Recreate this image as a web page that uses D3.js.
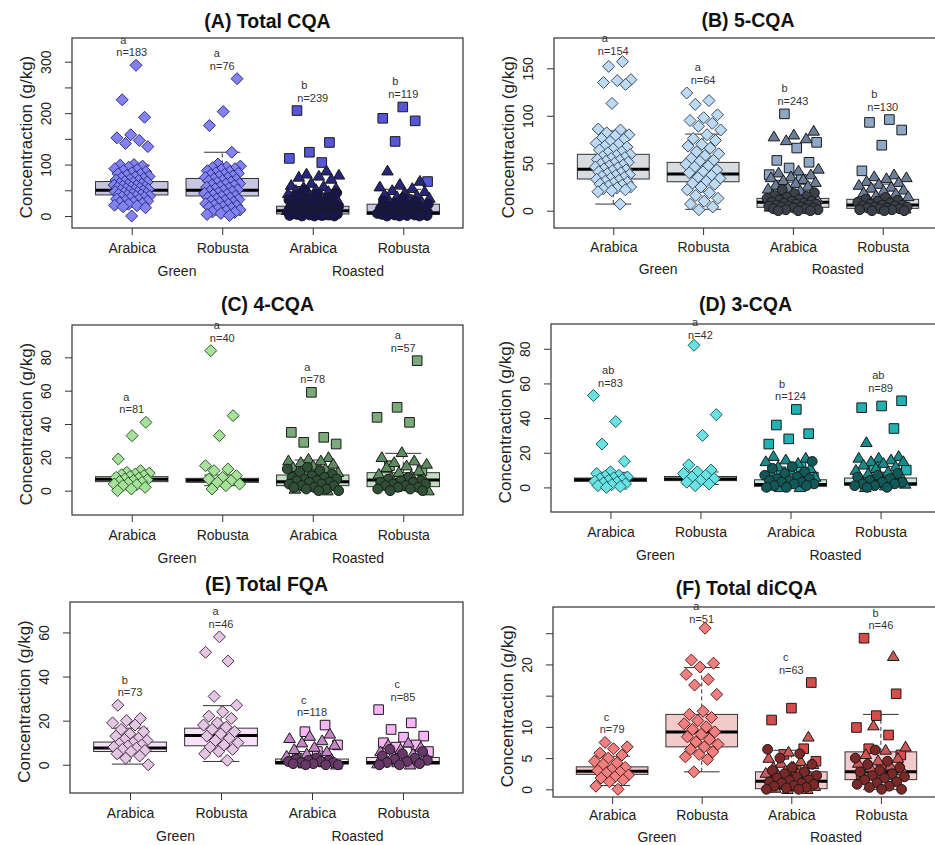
<!DOCTYPE html>
<html>
<head>
<meta charset="utf-8">
<script src="https://cdn.jsdelivr.net/npm/d3@7"></script>
<style>
  body { margin: 0; background: #fff; }
  svg { display: block; }
  text { font-family: "Liberation Sans", Arial, sans-serif; }
</style>
</head>
<body>
<svg id="chart" width="935" height="845"></svg>
<script>
// ---------- categories and labels ----------
const cultivars = ["Arabica", "Robusta", "Arabica", "Robusta"];
const processes = ["Green", "Roasted"];
const panelTitles = ["(A) Total CQA", "(B) 5-CQA", "(C) 4-CQA", "(D) 3-CQA", "(E) Total FQA", "(F) Total diCQA"];
const yAxisTitle = "Concentraction (g/kg)";

const yTicks = [
  [0, 50, 100, 150, 200, 250, 300],
  [0, 50, 100, 150],
  [0, 20, 40, 60, 80],
  [0, 20, 40, 60, 80],
  [0, 20, 40, 60],
  [0, 5, 10, 15, 20, 25]
];
const yTickLabels = [
  ["0", "", "100", "", "200", "", "300"],
  ["0", "50", "100", "150"],
  ["0", "20", "40", "60", "80"],
  ["0", "20", "40", "60", "80"],
  ["0", "20", "40", "60"],
  ["0", "5", "10", "", "20", ""]
];
const yLimits = [[-23.3, 346.1], [-18.2, 181.9], [-14.6, 99.4], [-14.2, 94.3], [-12.8, 73.8], [-1.23, 29.2]];

const sampleCounts = [
  [183, 76, 239, 119],
  [154, 64, 243, 130],
  [81, 40, 78, 57],
  [83, 42, 124, 89],
  [73, 46, 118, 85],
  [79, 51, 63, 46]
];
const groupLetters = [
  ["a", "a", "b", "b"],
  ["a", "a", "b", "b"],
  ["a", "a", "a", "a"],
  ["ab", "a", "b", "ab"],
  ["b", "a", "c", "c"],
  ["c", "a", "c", "b"]
];

// ---------- box summaries: [lower whisker, Q1, median, Q3, upper whisker] ----------
const boxTotalCQA = [[18, 41, 50, 67, 99], [2, 39, 50, 73, 124], [0, 4, 10, 19, 40], [0, 3, 6.5, 23, 52]];
const box5CQA = [[7, 33.4, 43.6, 59.4, 84], [1.5, 30.5, 38.6, 50.9, 80.7], [0, 3.6, 8.8, 13, 30], [0, 2.5, 6, 12, 28]];
const box4CQA = [[2.4, 5.4, 6.8, 8.4, 10.4], [3, 5, 6.2, 7.4, 9.4], [0, 3, 5.4, 9.4, 18.4], [0, 2.4, 6.4, 10.8, 22.4]];
const box3CQA = [[1.6, 3.5, 4.4, 5.4, 8.7], [1.7, 3.9, 4.8, 6.3, 8.9], [0, 0.6, 1.6, 4.4, 10], [0, 1.2, 2.1, 5.4, 12]];
const boxTotalFQA = [[0.3, 6, 7.6, 10.3, 16.6], [1.5, 8.6, 13.3, 16.6, 26.8], [0, 0.3, 1, 2.6, 6], [0, 0.3, 1, 3.3, 8]];
const boxTotalDiCQA = [[0.6, 2.4, 2.9, 3.6, 5.3], [2.8, 6.8, 9.2, 12, 19.5], [0, 0.1, 1.3, 2.8, 6.25], [0, 1.55, 2.8, 6, 12]];

// ---------- sample values (g/kg) ----------
// green beans (diamonds); roasted beans split by marker: sq / tri / dot
const tcqaGA = [293, 226, 192, 158, 152, 147, 141, 135, 100, 99, 97, 95, 92, 90, 88, 86, 84, 82, 81, 79, 77, 76, 74, 73, 71, 70, 69, 67, 66, 65, 63, 62, 61, 60, 59, 58, 57, 56, 55, 54, 53, 52, 51, 50, 49, 48, 47, 46, 45, 44, 43, 42, 41, 40, 39, 38, 37, 36, 35, 33, 32, 30, 29, 27, 26, 24, 23, 21, 20, 18, 16, 0];
const tcqaGR = [267, 203, 176, 124, 101, 97, 95, 94, 92, 90, 88, 86, 84, 83, 81, 80, 78, 77, 75, 74, 72, 71, 69, 68, 66, 65, 63, 62, 60, 59, 57, 56, 54, 53, 51, 50, 48, 47, 45, 44, 42, 41, 39, 38, 36, 35, 33, 32, 30, 29, 27, 26, 24, 23, 21, 20, 18, 17, 15, 14, 12, 10, 8, 7, 5, 3, 1];
const tcqaRA_sq = [205, 143, 124, 112, 104, 48, 42, 30, 22];
const tcqaRA_tri = [88, 82, 80, 78, 76, 72, 64, 60, 58, 56, 54, 52, 50, 48, 46, 44, 42, 40, 38, 36, 35, 33, 32, 30, 29, 27, 26, 24, 23, 21, 20, 18, 17, 15, 14, 12, 11, 9, 8, 6, 5, 3, 1];
const tcqaRA_dot = [50, 45, 42, 40, 36, 34, 31, 28, 27, 25, 24, 22, 21, 19, 18, 17, 16, 15, 14, 13, 12, 12, 11, 10, 9, 9, 8, 8, 7, 7, 6, 6, 5, 5, 4, 4, 3, 3, 2, 2, 1, 1, 0, 0, 0];
const tcqaRR_sq = [212, 190, 185, 145, 67, 32];
const tcqaRR_tri = [88, 68, 62, 57, 54, 50, 48, 45, 42, 40, 38, 35, 33, 30, 28, 26, 24, 22, 20, 18, 16, 14, 12, 10, 8, 6, 4, 2];
const tcqaRR_dot = [35, 30, 28, 25, 23, 21, 19, 17, 15, 14, 12, 11, 10, 9, 8, 7, 6, 5, 5, 4, 4, 3, 3, 2, 2, 1, 1, 0, 0, 0];

const cqa5GA = [157, 152, 138, 137, 135, 133, 113, 86, 85, 82, 80, 79, 76, 75, 73, 71, 70, 68, 67, 65, 64, 62, 61, 59, 58, 57, 56, 55, 54, 53, 52, 51, 50, 49, 48, 47, 46, 45, 44, 43, 42, 41, 40, 39, 38, 37, 36, 35, 34, 33, 32, 31, 30, 29, 28, 27, 26, 25, 24, 23, 22, 21, 20, 7];
const cqa5GR = [124, 116, 112, 101, 98, 95, 92, 89, 85, 80, 76, 74, 70, 68, 66, 62, 60, 58, 55, 53, 52, 49, 47, 46, 43, 41, 40, 37, 35, 34, 31, 29, 28, 25, 22, 19, 16, 13, 10, 7, 4, 1];
const cqa5RA_sq = [102, 72, 66, 53, 51, 45, 38, 33, 27];
const cqa5RA_tri = [84, 80, 78, 76, 74, 44, 42, 40, 38, 36, 35, 33, 32, 30, 29, 27, 26, 24, 23, 21, 20, 19, 18, 17, 15, 14, 12, 11, 9, 8, 6, 4, 2];
const cqa5RA_dot = [22, 19, 18, 16, 15, 14, 13, 12, 11, 10, 10, 9, 8, 8, 7, 7, 6, 6, 5, 5, 4, 4, 3, 3, 2, 2, 1, 1, 0, 0, 0];
const cqa5RR_sq = [96, 93, 85, 69, 42];
const cqa5RR_tri = [38, 36, 35, 34, 31, 30, 28, 27, 25, 24, 22, 21, 19, 18, 16, 15, 13, 12, 10, 9, 7, 6, 4, 2];
const cqa5RR_dot = [14, 12, 11, 10, 9, 8, 7, 6, 6, 5, 5, 4, 4, 3, 3, 2, 2, 1, 1, 0, 0, 0];

const cqa4GA = [41, 33, 19, 12, 11, 10.5, 10, 9.5, 9, 8.5, 8, 7.5, 7, 6.5, 6, 5.5, 5, 4.5, 4, 3.5, 3, 2, 1, 0];
const cqa4GR = [84, 45, 33, 15, 13, 12, 9, 8, 7, 6, 5, 4, 3, 1];
const cqa4RA_sq = [59, 35, 32, 29, 28, 13, 9];
const cqa4RA_tri = [20, 19, 18, 18, 17, 16, 15, 14, 13, 12, 11, 10, 9, 8, 7, 6, 5, 4, 3, 2, 1, 0];
const cqa4RA_dot = [14, 13, 12, 11, 10, 9, 8, 8, 7, 7, 6, 6, 5, 5, 4, 4, 3, 3, 2, 2, 1, 1, 0, 0];
const cqa4RR_sq = [78, 50, 44, 41, 15, 12];
const cqa4RR_tri = [23, 20, 18, 17, 16, 15, 14, 12, 11, 10, 9, 8, 7, 6, 5, 3, 2, 0];
const cqa4RR_dot = [8, 7, 6, 6, 5, 5, 4, 4, 3, 3, 2, 2, 1, 1, 0, 0];

const cqa3GA = [53, 38, 25, 15, 9, 8, 7, 6.5, 6, 5.5, 5, 4.5, 4, 3.5, 3, 2.5, 2, 1.5, 1, 0.5, 0];
const cqa3GR = [82, 42, 30, 13, 10, 9, 8, 7, 6, 5, 4, 3, 2, 1];
const cqa3RA_sq = [45, 36, 31, 28, 25, 12, 9, 6, 3];
const cqa3RA_tri = [18, 17, 16, 15, 14, 12, 11, 10, 9, 8, 7, 6, 5, 4, 3, 2, 1, 0, 0];
const cqa3RA_dot = [15, 12, 11, 9, 8, 7, 6, 5, 5, 4, 4, 3, 3, 2, 2, 1, 1, 0, 0];
const cqa3RR_sq = [50, 47, 46, 34, 12, 10, 6];
const cqa3RR_tri = [26, 18, 17, 17, 16, 15, 15, 14, 13, 12, 11, 10, 9, 8, 7, 6, 5, 4, 3, 2, 1, 0];
const cqa3RR_dot = [8, 7, 6, 5, 4, 3, 3, 2, 2, 1, 1, 0, 0];

const fqaGA = [27, 21, 20, 19, 18, 16, 15, 14, 13, 12, 11.5, 11, 10, 9.5, 9, 8.5, 8, 7.5, 7, 6.5, 6, 5, 4, 3, 0];
const fqaGR = [58, 51, 47, 31, 27, 24, 22, 21, 19, 18, 17, 16, 15, 14, 13, 12, 11, 10, 9, 8, 7, 6, 5, 2];
const fqaRA_sq = [18, 15, 9, 6, 3];
const fqaRA_tri = [14, 13, 12, 11, 10, 9, 8, 7, 6, 5, 4, 3.5, 3, 2.5, 2, 1.5, 1, 0.5, 0];
const fqaRA_dot = [3, 2.5, 2, 2, 1.5, 1.5, 1, 1, 0.5, 0.5, 0, 0, 0];
const fqaRR_sq = [25, 19, 16, 13, 12.5, 10, 9, 8, 6];
const fqaRR_tri = [10, 9, 8, 7, 6, 5, 4.5, 4, 3, 2.5, 2, 1, 0.5, 0];
const fqaRR_dot = [7, 6, 5, 4, 3, 2.5, 2, 1.5, 1, 0.5, 0, 0];

const dicqaGA = [7.5, 6.8, 6.5, 5.8, 5.5, 5, 4.5, 4.2, 4, 3.5, 3.2, 3, 2.8, 2.6, 2.3, 2, 1.8, 1.5, 1.2, 0.5, 0];
const dicqaGR = [25.8, 20.7, 20.2, 19.6, 18.4, 17.6, 16.7, 15.2, 12.5, 12, 11.5, 11, 10.5, 10, 9.6, 9.2, 8.8, 8.4, 8, 7.6, 7.2, 6.8, 6.4, 6, 5.6, 5.2, 4.8, 2.8];
const dicqaRA_sq = [17.1, 13, 11.1, 6.5, 5.6, 4.5, 3, 2];
const dicqaRA_tri = [8.4, 6, 5, 4.5, 4.2, 4, 3.6, 3.5, 3.2, 3, 2.6, 2.5, 2.2, 2, 1.5, 1.2, 1, 0.8, 0.5, 0.4, 0.2, 0, 0];
const dicqaRA_dot = [6.4, 5.7, 5, 4, 3.5, 3, 2.8, 2.5, 2.2, 2, 1.8, 1.5, 1.4, 1.2, 1, 1, 0.8, 0.6, 0.5, 0.3, 0.2, 0, 0];
const dicqaRR_sq = [24.2, 15.3, 11.8, 9.9, 8.7, 6.5, 5.5, 3.5, 2.5];
const dicqaRR_tri = [21.3, 10.2, 6.8, 6.3, 5.6, 5, 4.6, 4.2, 3.8, 3.5, 3, 2.6, 2, 1.5];
const dicqaRR_dot = [6.3, 5, 4.5, 4, 3.5, 3, 2.8, 2.5, 2.2, 2, 1.8, 1.5, 1.2, 1, 0.8, 0.5, 0.3, 0, 0];

// ---------- assemble panels ----------
const panelBoxes = [boxTotalCQA, box5CQA, box4CQA, box3CQA, boxTotalFQA, boxTotalDiCQA];
const panelPoints = [
  [{ dia: tcqaGA }, { dia: tcqaGR }, { sq: tcqaRA_sq, tri: tcqaRA_tri, dot: tcqaRA_dot }, { sq: tcqaRR_sq, tri: tcqaRR_tri, dot: tcqaRR_dot }],
  [{ dia: cqa5GA }, { dia: cqa5GR }, { sq: cqa5RA_sq, tri: cqa5RA_tri, dot: cqa5RA_dot }, { sq: cqa5RR_sq, tri: cqa5RR_tri, dot: cqa5RR_dot }],
  [{ dia: cqa4GA }, { dia: cqa4GR }, { sq: cqa4RA_sq, tri: cqa4RA_tri, dot: cqa4RA_dot }, { sq: cqa4RR_sq, tri: cqa4RR_tri, dot: cqa4RR_dot }],
  [{ dia: cqa3GA }, { dia: cqa3GR }, { sq: cqa3RA_sq, tri: cqa3RA_tri, dot: cqa3RA_dot }, { sq: cqa3RR_sq, tri: cqa3RR_tri, dot: cqa3RR_dot }],
  [{ dia: fqaGA }, { dia: fqaGR }, { sq: fqaRA_sq, tri: fqaRA_tri, dot: fqaRA_dot }, { sq: fqaRR_sq, tri: fqaRR_tri, dot: fqaRR_dot }],
  [{ dia: dicqaGA }, { dia: dicqaGR }, { sq: dicqaRA_sq, tri: dicqaRA_tri, dot: dicqaRA_dot }, { sq: dicqaRR_sq, tri: dicqaRR_tri, dot: dicqaRR_dot }]
];

// ---------- layout and styling ----------
// plot frame of each panel, plus baselines of the title and of tick / group labels
const frames = [
  { x0: 72, x1: 463, y0: 38, y1: 228, titleY: 10, tickY: 25, groupY: 48 },
  { x0: 554, x1: 942, y0: 38, y1: 228, titleY: 11, tickY: 24, groupY: 46 },
  { x0: 72, x1: 463, y0: 325, y1: 515, titleY: 14, tickY: 25, groupY: 48 },
  { x0: 551, x1: 940, y0: 324, y1: 512, titleY: 13, tickY: 25, groupY: 48 },
  { x0: 70, x1: 463, y0: 602, y1: 793, titleY: 11, tickY: 25, groupY: 48 },
  { x0: 553, x1: 940, y0: 607, y1: 797, titleY: 12, tickY: 23, groupY: 45 }
];
const palettes = [
  { box: "#c6c6e2", dia: "#8282f2", diaStroke: "#2e2e7a", sq: "#5656d8", tri: "#26267c", dot: "#16164c" },
  { box: "#d7dce1", dia: "#bcdaf4", diaStroke: "#3d4a5a", sq: "#90a8c8", tri: "#6b7d97", dot: "#3b4149" },
  { box: "#c3ddc1", dia: "#a8e29a", diaStroke: "#2e5a2e", sq: "#7aab78", tri: "#5f8b61", dot: "#2f4f37" },
  { box: "#c6e6e6", dia: "#6ae2e4", diaStroke: "#1b5f60", sq: "#22b2b4", tri: "#188a8a", dot: "#115858" },
  { box: "#f9e2f9", dia: "#e2c6e2", diaStroke: "#4a304a", sq: "#f8b4f4", tri: "#c685c6", dot: "#683868" },
  { box: "#f2caca", dia: "#f08080", diaStroke: "#5a2020", sq: "#d84b4b", tri: "#cd5656", dot: "#7a2828" }
];
const markerPaths = {
  dia: "M0,-6L6,0L0,6L-6,0Z",
  sq: "M-4.8,-4.8H4.8V4.8H-4.8Z",
  tri: "M0,-5.6L5.8,4.2H-5.8Z",
  dot: d3.symbol(d3.symbolCircle, Math.PI * 4.9 * 4.9)()
};
const ink = "#333";
const titleSize = 19.5, nSize = 11, letterSize = 11;

// deterministic horizontal spread of points around each group centre
function spread(j, g, k, width) {
  const u = ((j + 1) * 0.6180339887 + g * 0.291 + k * 0.137) % 1;
  return (u - 0.5) * 2 * width;
}

const svg = d3.select("#chart");

panelTitles.forEach((title, k) => {
  const f = frames[k];
  const pal = palettes[k];
  const g = svg.append("g");
  const x = d3.scaleLinear().domain([0.34, 4.66]).range([f.x0, f.x1]);
  const y = d3.scaleLinear().domain(yLimits[k]).range([f.y1, f.y0]);
  const midX = (f.x0 + f.x1) / 2;
  const titleBase = f.y0 - f.titleY;

  // title
  g.append("text").attr("x", midX).attr("y", titleBase)
    .attr("text-anchor", "middle").attr("font-size", titleSize).attr("font-weight", "bold")
    .attr("fill", "#111").text(title);

  // y axis
  const yAxis = g.append("g").attr("transform", `translate(${f.x0},0)`)
    .call(d3.axisLeft(y).tickValues(yTicks[k]).tickSize(7)
      .tickFormat((d, i) => yTickLabels[k][i]));
  yAxis.select(".domain").remove();
  yAxis.selectAll("line").attr("stroke", ink);
  yAxis.selectAll("text")
    .attr("transform", "rotate(-90)").attr("x", 0).attr("y", -21).attr("dy", 0)
    .attr("text-anchor", "middle").attr("font-size", 14).attr("fill", "#222")
    .style("font-family", "'Liberation Sans', Arial, sans-serif");

  g.append("text")
    .attr("transform", `translate(${f.x0 - 40},${(f.y0 + f.y1) / 2 + 4}) rotate(-90)`)
    .attr("text-anchor", "middle").attr("font-size", 17).attr("fill", "#222")
    .text(yAxisTitle);

  // x axis
  const xAxis = g.append("g").attr("transform", `translate(0,${f.y1})`)
    .call(d3.axisBottom(x).tickValues([1, 2, 3, 4]).tickSize(7)
      .tickFormat((d, i) => cultivars[i]));
  xAxis.select(".domain").remove();
  xAxis.selectAll("line").attr("stroke", ink);
  xAxis.selectAll("text").attr("y", f.tickY).attr("dy", 0).attr("font-size", 14).attr("fill", "#222")
    .style("font-family", "'Liberation Sans', Arial, sans-serif");

  processes.forEach((p, i) => {
    g.append("text").attr("x", x(1.5 + 2 * i)).attr("y", f.y1 + f.groupY)
      .attr("text-anchor", "middle").attr("font-size", 14).attr("fill", "#222").text(p);
  });

  // boxes
  panelBoxes[k].forEach((b, i) => {
    const cx = x(i + 1);
    const [lo, q1, med, q3, hi] = b;
    const bw = x(1.4) - x(1);
    const cw = x(1.2) - x(1);
    const bg = g.append("g");
    bg.append("line").attr("x1", cx).attr("x2", cx).attr("y1", y(q3)).attr("y2", y(hi))
      .attr("stroke", ink).attr("stroke-dasharray", "4,3");
    bg.append("line").attr("x1", cx).attr("x2", cx).attr("y1", y(q1)).attr("y2", y(lo))
      .attr("stroke", ink).attr("stroke-dasharray", "4,3");
    [lo, hi].forEach(v => bg.append("line").attr("x1", cx - cw).attr("x2", cx + cw)
      .attr("y1", y(v)).attr("y2", y(v)).attr("stroke", ink));
    bg.append("rect").attr("x", cx - bw).attr("width", 2 * bw)
      .attr("y", y(q3)).attr("height", Math.max(y(q1) - y(q3), 0.5))
      .attr("fill", pal.box).attr("stroke", ink).attr("stroke-width", 1);
    bg.append("line").attr("x1", cx - bw).attr("x2", cx + bw).attr("y1", y(med)).attr("y2", y(med))
      .attr("stroke", "#000").attr("stroke-width", 3);
  });

  // points
  const pointLayer = g.append("g");
  const groupMax = [];
  panelPoints[k].forEach((grp, i) => {
    const cx = x(i + 1);
    const width = (grp.dia ? 0.2 : 0.29) * (x(2) - x(1));
    let j = 0;
    let mx = -Infinity;
    ["dia", "sq", "tri", "dot"].forEach(shape => {
      if (!grp[shape]) return;
      grp[shape].forEach(v => {
        mx = Math.max(mx, v);
        const px = cx + spread(j, i, k, width);
        j++;
        pointLayer.append("path")
          .attr("d", markerPaths[shape])
          .attr("transform", `translate(${px},${y(v)})`)
          .attr("fill", pal[shape])
          .attr("stroke", shape === "dia" ? pal.diaStroke : "#1a1a1a")
          .attr("stroke-width", 1);
      });
    });
    groupMax.push(mx);
  });

  // sample size and significance letters, kept clear of the panel title
  const letterGap = 12.5;
  const minBase = titleBase + titleSize * 0.22 + 0.8 + letterSize * 0.92 + letterGap;
  groupMax.forEach((mx, i) => {
    const cx = x(i + 1);
    const base = Math.max(y(mx) - 9, minBase);
    const nt = g.append("text").attr("x", cx).attr("y", base)
      .attr("text-anchor", "middle").attr("font-size", nSize).attr("fill", "#333")
      .text("n=" + sampleCounts[k][i]);
    const w = nt.node().getComputedTextLength();
    g.append("text").attr("x", cx - w / 2 + 4).attr("y", base - letterGap)
      .attr("font-size", letterSize).attr("fill", "#333")
      .text(groupLetters[k][i]);
  });

  // frame
  g.append("rect").attr("x", f.x0).attr("y", f.y0)
    .attr("width", f.x1 - f.x0).attr("height", f.y1 - f.y0)
    .attr("fill", "none").attr("stroke", ink).attr("stroke-width", 1.2);
});
</script>
</body>
</html>
